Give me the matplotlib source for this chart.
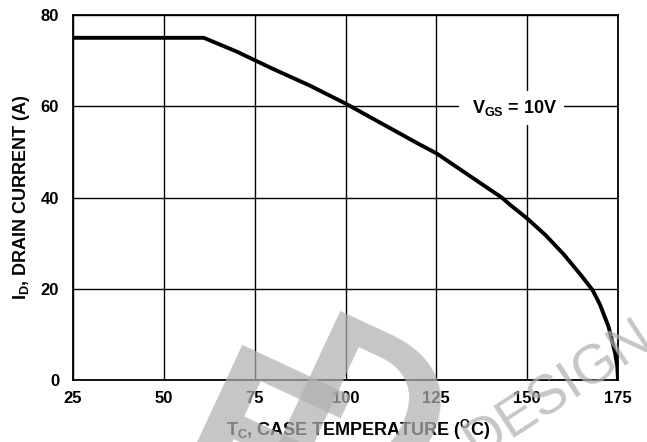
import matplotlib
matplotlib.use("Agg")
import matplotlib.pyplot as plt

plt.rcParams['font.family'] = ['Liberation Sans', 'DejaVu Sans']
plt.rcParams['mathtext.fontset'] = 'custom'
plt.rcParams['mathtext.rm'] = 'Liberation Sans:bold'
plt.rcParams['mathtext.bf'] = 'Liberation Sans:bold'
plt.rcParams['mathtext.it'] = 'Liberation Sans:bold'

# drain current derating curve
temp_c = [25, 61, 70, 75, 80, 90, 100, 110, 120, 125, 130, 135, 140, 143, 145,
          150, 155, 160, 165, 168, 170, 172.4, 174.2, 174.8, 175]
drain_a = [75, 75, 72, 70.1, 68.2, 64.6, 60.6, 56.2, 51.8, 49.7, 47, 44.3, 41.6, 40, 38.6,
           35.4, 31.8, 27.6, 22.8, 19.7, 16.6, 11.7, 5.9, 3, 0]

x_ticks = [25, 50, 75, 100, 125, 150, 175]
y_ticks = [0, 20, 40, 60, 80]

fig = plt.figure(figsize=(6.47, 4.42), dpi=100)
ax = fig.add_axes([73 / 647, 62 / 442, 545 / 647, 365 / 442])

ax.plot(temp_c, drain_a, color='black', lw=2.8, solid_capstyle='butt',
        solid_joinstyle='round', zorder=3)

ax.set_xlim(25, 175)
ax.set_ylim(0, 80)
ax.set_xticks(x_ticks)
ax.set_yticks(y_ticks)
ax.grid(True, color='black', lw=1.0)
ax.tick_params(length=0, labelsize=12)
ax.tick_params(axis='y', pad=10)
ax.tick_params(axis='x', pad=8)
for lab in ax.get_xticklabels() + ax.get_yticklabels():
    lab.set_fontweight('bold')
for s in ax.spines.values():
    s.set_linewidth(1.3)

ax.set_xlabel(r'$\mathbf{T_C}$, CASE TEMPERATURE ($\mathbf{^O}$C)',
              fontsize=13, fontweight='bold')
ax.set_ylabel(r'$\mathbf{I_D}$, DRAIN CURRENT (A)',
              fontsize=13, fontweight='bold')
ax.xaxis.set_label_coords(0.523, -0.105)
ax.yaxis.set_label_coords(-0.075, 0.5)

ax.text(145.8, 59.6, r' $\mathbf{V_{GS}}$ = 10V ', fontsize=13, fontweight='bold',
        ha='center', va='center', zorder=4,
        bbox=dict(boxstyle='square,pad=0.4', fc='white', ec='none'))

# watermark fragments
wm = dict(color='#b0b0b0', alpha=0.72, fontweight='bold', zorder=10,
          ha='center', va='center', rotation_mode='anchor')
fig.text(253 / 647, 1 - 463 / 442, 'E', fontsize=160, rotation=-25, **wm)
fig.text(356 / 647, 1 - 431 / 442, 'D', fontsize=160, rotation=-25, **wm)
fig.text(477 / 647, 1 - 460 / 442, 'DESIGN', fontsize=40, rotation=33,
         color='#b0b0b0', alpha=0.72, zorder=10, ha='left', va='baseline',
         rotation_mode='anchor')

fig.savefig('out.png', dpi=100)
